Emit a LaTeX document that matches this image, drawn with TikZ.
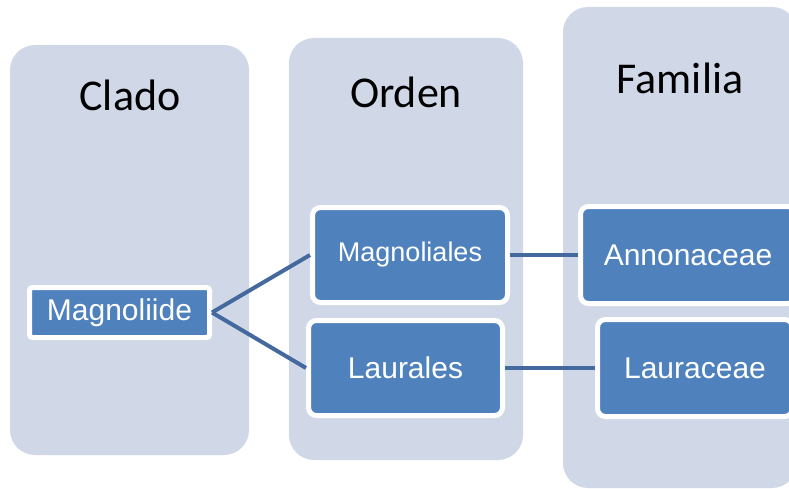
\documentclass[tikz,border=0pt]{standalone}
\usepackage{fontspec}
\newfontfamily\headfont{Carlito}
\newfontfamily\boxfont{Liberation Sans}
\definecolor{colbg}{HTML}{D0D8E8}
\definecolor{boxblue}{HTML}{4F81BD}
\definecolor{linkblue}{HTML}{43699E}

\tikzstyle{column} = [fill=colbg, draw=none, rounded corners=25, inner sep=0]
\tikzstyle{head} = [font={\headfont\fontsize{44}{44}\selectfont}, text=black]
\tikzstyle{taxon} = [fill=boxblue, draw=white, line width=5, rounded corners=8, text=white, font={\boxfont\fontsize{30}{30}\selectfont}, inner sep=0]
\tikzstyle{link} = [draw=linkblue, line width=4]

\begin{document}
\begin{tikzpicture}[x=1pt,y=-1pt]
\useasboundingbox (0,0) rectangle (789,489);
\clip (0,0) rectangle (789,489);

\node [column, minimum width=239, minimum height=410] (c1) at (129.5,250) {};
\node [column, minimum width=234, minimum height=422] (c2) at (406,249) {};
\node [column, minimum width=234, minimum height=481] (c3) at (680,247.5) {};
\node [head] (h1) at (130,95) {Clado};
\node [head] (h2) at (406,92) {Orden};
\node [head] (h3) at (680,78) {Familia};
\node [taxon, minimum width=180, minimum height=50, rounded corners=3] (clade) at (119.5,312.5) {Magnoliide};
\node [taxon, minimum width=195, minimum height=95, font={\boxfont\fontsize{27}{27}\selectfont}] (ord1) at (410,255) {Magnoliales};
\node [taxon, minimum width=194, minimum height=95] (ord2) at (405.5,368) {Laurales};
\node [taxon, minimum width=215, minimum height=97] (fam1) at (688,255) {Annonaceae};
\node [taxon, minimum width=195, minimum height=97] (fam2) at (695,368) {Lauraceae};
\draw [link] (clade.east) -- (ord1.west);
\draw [link] (clade.east) -- (ord2.west);
\draw [link] (ord1.east) -- (fam1.west);
\draw [link] (ord2.east) -- (fam2.west);
\end{tikzpicture}
\end{document}
